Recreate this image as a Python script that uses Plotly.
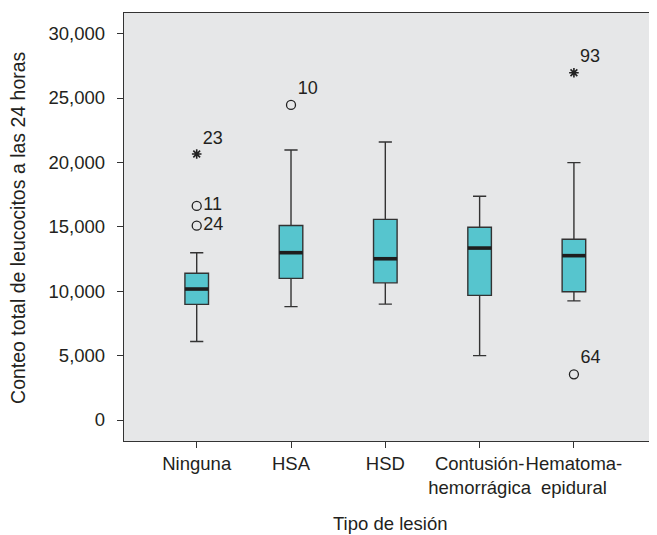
import plotly.graph_objects as go

categories = ["Ninguna", "HSA", "HSD", "Contusión-<br>hemorrágica", "Hematoma-<br>epidural"]
lower_whisker = [6100, 8800, 9000, 5000, 9250]
q1_values = [8980, 11000, 10650, 9680, 9960]
median_values = [10170, 12990, 12520, 13350, 12760]
q3_values = [11390, 15100, 15580, 14960, 14030]
upper_whisker = [12990, 20960, 21580, 17370, 19980]

outlier_group = [0, 0, 1, 4]
outlier_values = [16620, 15090, 24460, 3550]
outlier_labels = ["11", "24", "10", "64"]
extreme_group = [0, 4]
extreme_values = [20650, 26960]
extreme_labels = ["23", "93"]

y_ticks = [0, 5000, 10000, 15000, 20000, 25000, 30000]
y_tick_labels = ["0", "5,000", "10,000", "15,000", "20,000", "25,000", "30,000"]

x_title = "Tipo de lesión"
y_title = "Conteo total de leucocitos a las 24 horas"

FONT = "Liberation Sans, Arial, sans-serif"
TXT = "#231f20"
BOX_W = 0.25
pos = list(range(len(categories)))

fig = go.Figure()
fig.add_trace(go.Box(
    x=pos, q1=q1_values, median=median_values, q3=q3_values,
    lowerfence=lower_whisker, upperfence=upper_whisker,
    width=BOX_W, whiskerwidth=0.56, boxpoints=False,
    fillcolor="#56c5ce", line=dict(color="#333333", width=1.4),
    showlegend=False, hoverinfo="skip"))

mx, my = [], []
for p, m in zip(pos, median_values):
    mx += [p - BOX_W / 2, p + BOX_W / 2, None]
    my += [m, m, None]
fig.add_trace(go.Scatter(x=mx, y=my, mode="lines",
                         line=dict(color="#1e1e1e", width=3.6),
                         showlegend=False, hoverinfo="skip"))

out_pos = ["middle right" if lab in ("11", "24") else "top right" for lab in outlier_labels]
fig.add_trace(go.Scatter(
    x=outlier_group, y=outlier_values, mode="markers+text",
    text=outlier_labels, textposition=out_pos,
    textfont=dict(family=FONT, size=18, color=TXT),
    marker=dict(symbol="circle-open", size=9, color="#222222", line=dict(width=1.3)),
    showlegend=False, hoverinfo="skip"))
fig.add_trace(go.Scatter(
    x=extreme_group, y=extreme_values, mode="markers+text",
    text=extreme_labels, textposition="top right",
    textfont=dict(family=FONT, size=18, color=TXT),
    marker=dict(symbol="asterisk-open", size=8, color="#222222", line=dict(width=1.6, color="#222222")),
    showlegend=False, hoverinfo="skip"))

# the page body adds an 8px margin, so the figure is sized to fit inside the window
fig.update_layout(
    width=649, height=527,
    margin=dict(l=116, r=0, t=5, b=94),
    paper_bgcolor="white", plot_bgcolor="#e6e7e8",
    font=dict(family=FONT, size=18, color=TXT),
    showlegend=False,
)
fig.update_xaxes(
    range=[-0.771, 4.881], tickmode="array", tickvals=pos, ticktext=categories,
    showgrid=False, zeroline=False, showline=True, mirror=True, automargin=False,
    linecolor="#333333", linewidth=1.3, ticks="outside", ticklen=6, tickangle=0,
    tickcolor="#333333", tickwidth=1.2, tickfont=dict(size=18.5),
)
fig.update_yaxes(
    range=[-1630, 31600], tickmode="array", tickvals=y_ticks, ticktext=y_tick_labels,
    showgrid=False, zeroline=False, showline=True, mirror=False, automargin=False,
    linecolor="#333333", linewidth=1.3, ticks="outside", ticklen=6,
    tickcolor="#333333", tickwidth=1.2, tickfont=dict(size=18.5), ticklabelstandoff=8,
)
fig.add_annotation(text=x_title, xref="paper", yref="paper", x=0.5, y=-0.1916,
                   xanchor="center", yanchor="middle", showarrow=False,
                   font=dict(family=FONT, size=18.5, color=TXT))
fig.add_annotation(text=y_title, xref="paper", yref="paper", x=-0.199, y=0.5,
                   xanchor="center", yanchor="middle", textangle=-90, showarrow=False,
                   font=dict(family=FONT, size=19.5, color=TXT))

fig.write_html("out.html")
